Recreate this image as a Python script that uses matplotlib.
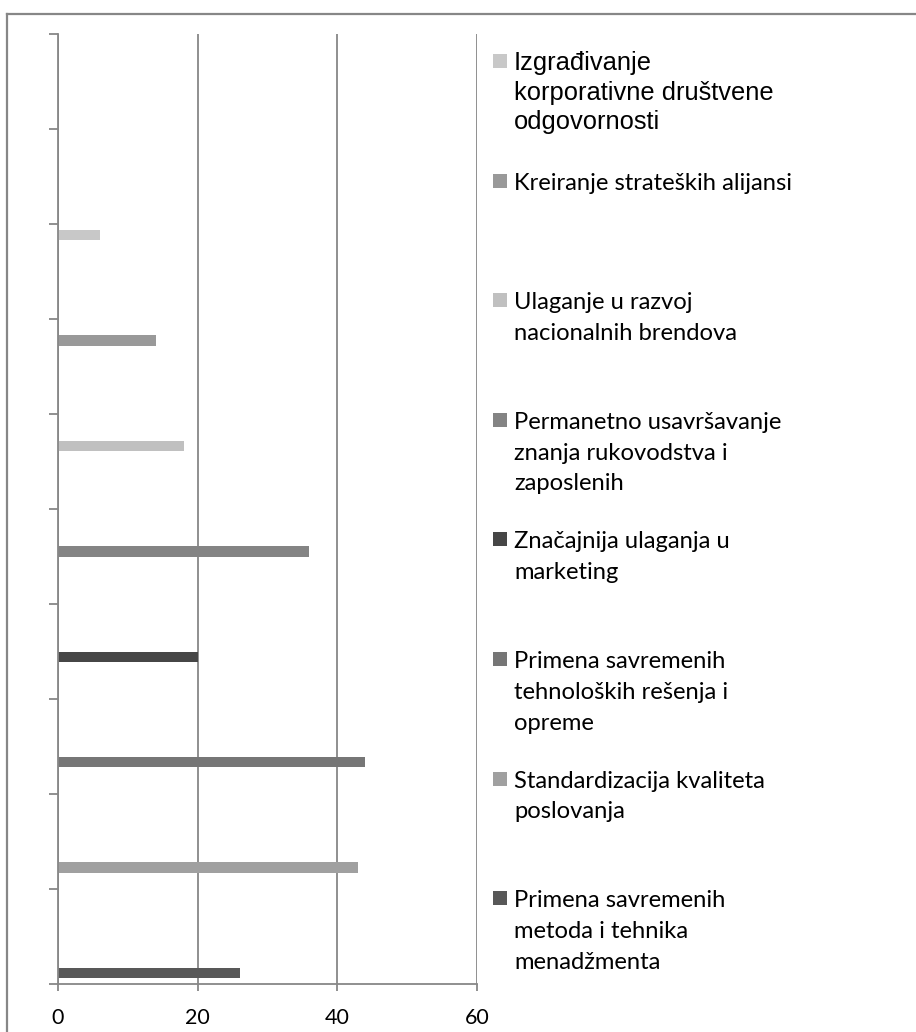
import matplotlib
matplotlib.use("Agg")
import matplotlib.pyplot as plt
from matplotlib.patches import Rectangle
from matplotlib.lines import Line2D

# Series (one per strategy), listed bottom to top as plotted
series_names = [
    "Primena savremenih\nmetoda i tehnika\nmenadžmenta",
    "Standardizacija kvaliteta\nposlovanja",
    "Primena savremenih\ntehnoloških rešenja i\nopreme",
    "Značajnija ulaganja u\nmarketing",
    "Permanetno usavršavanje\nznanja rukovodstva i\nzaposlenih",
    "Ulaganje u razvoj\nnacionalnih brendova",
    "Kreiranje strateških alijansi",
    "Izgrađivanje\nkorporativne društvene\nodgovornosti",
]
series_values = [26, 43, 44, 20, 36, 18, 14, 6]
series_colors = ["#585858", "#a0a0a0", "#767676", "#464646",
                 "#848484", "#c0c0c0", "#999999", "#c8c8c8"]
# Category slot that holds each series' value (ten slots on the axis)
series_category = [0, 1, 2, 3, 4, 5, 6, 7]
n_categories = 10
x_ticks = [0, 20, 40, 60]

W, H = 916, 1032
DPI = 100
fig = plt.figure(figsize=(W / DPI, H / DPI), dpi=DPI)
fig.patch.set_facecolor("white")

GRAY = "#878787"

def fx(px):
    return px / W

def fy(py):
    return 1 - py / H

# outer chart frame (runs off the right and bottom edges)
fig.add_artist(Line2D([fx(7), fx(W + 5)], [fy(14), fy(14)], color=GRAY, lw=1.6,
                      transform=fig.transFigure))
fig.add_artist(Line2D([fx(7), fx(7)], [fy(14), fy(H + 5)], color=GRAY, lw=1.6,
                      transform=fig.transFigure))

ax_left, ax_right, ax_top, ax_bottom = 58, 477, 34, 984
ax = fig.add_axes([fx(ax_left), fy(ax_bottom), (ax_right - ax_left) / W,
                   (ax_bottom - ax_top) / H])

n_series = len(series_values)
bar_h = 0.1105
for j, (val, col, cat) in enumerate(zip(series_values, series_colors, series_category)):
    ypos = cat + (j - (n_series - 1) / 2) * bar_h
    ax.barh(ypos, val, height=bar_h, color=col, edgecolor="none", zorder=3)

ax.set_xlim(0, 60)
ax.set_ylim(-0.5, n_categories - 0.5)
ax.set_xticks(x_ticks)
ax.set_xticklabels([str(t) for t in x_ticks], fontfamily="Lato", fontsize=15.5)
ax.set_yticks([k - 0.5 for k in range(n_categories + 1)])
ax.set_yticklabels([])
ax.tick_params(axis="y", length=6.5, width=1.3, color=GRAY, direction="out")
ax.tick_params(axis="x", length=5, width=1.3, color=GRAY, direction="out", pad=12.5)
ax.grid(axis="x", color=GRAY, lw=1.3, zorder=1)
ax.set_axisbelow(True)
for side in ("top", "right"):
    ax.spines[side].set_visible(False)
for side in ("left", "bottom"):
    ax.spines[side].set_color(GRAY)
    ax.spines[side].set_linewidth(1.3)
ax.spines["left"].set_zorder(4)

# legend, top entry = last series
first_baseline = 70
slot = 119.6
mark_x0, mark_size = 493, 14
text_x = 514
for i, j in enumerate(range(n_series - 1, -1, -1)):
    base = first_baseline + i * slot
    lines = series_names[j].split("\n")
    if j == n_series - 1:
        fam, size, lsp = "Liberation Sans", 18.4, 29.5
    else:
        fam, size, lsp = "Lato", 17.1, 30.8
    fig.add_artist(Rectangle((fx(mark_x0), fy(base - 2)), mark_size / W, mark_size / H,
                             transform=fig.transFigure, facecolor=series_colors[j],
                             edgecolor="none"))
    for k, line in enumerate(lines):
        fig.text(fx(text_x), fy(base + k * lsp), line, fontfamily=fam, fontsize=size,
                 ha="left", va="baseline", color="black")

fig.savefig("out.png", dpi=DPI, facecolor="white")
